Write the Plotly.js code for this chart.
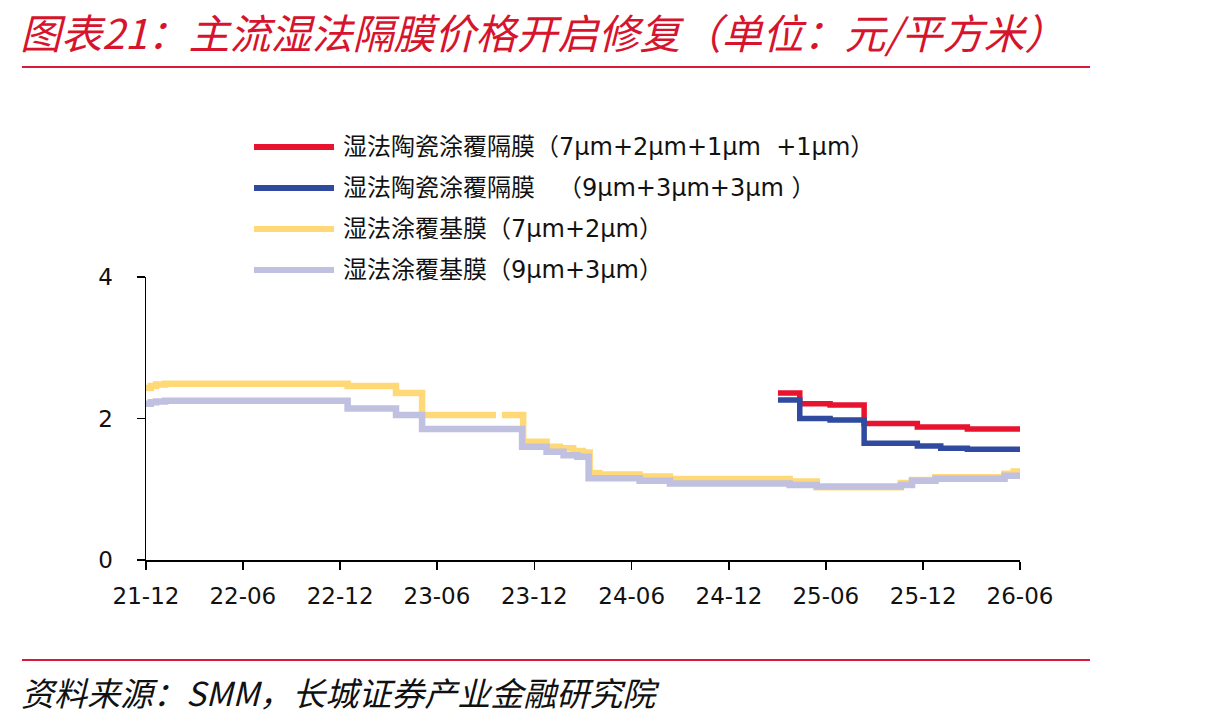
<!DOCTYPE html>
<html>
<head>
<meta charset="utf-8">
<script src="https://cdn.plot.ly/plotly-3.0.1.min.js"></script>
<style>html,body{margin:0;padding:0;background:#fff;}#chart{width:1210px;height:725px;}</style>
</head>
<body>
<div id="chart"></div>
<script>
const titleText = '图表21：主流湿法隔膜价格开启修复（单位：元/平方米）';
const sourceText = '资料来源：SMM，长城证券产业金融研究院';

const seriesNames = [
  '湿法陶瓷涂覆隔膜（7μm+2μm+1μm  +1μm）',
  '湿法陶瓷涂覆隔膜   （9μm+3μm+3μm ）',
  '湿法涂覆基膜（7μm+2μm）',
  '湿法涂覆基膜（9μm+3μm）'
];
const seriesColors = ['#E8132F', '#2F4A9E', '#FFD978', '#C0C0E0'];
const seriesWidths = [5.5, 5.5, 6.5, 6.5];

const redDates = ['2025-03-03','2025-04-13','2025-06-09','2025-08-12','2025-11-20','2026-02-22','2026-06-01'];
const redVals  = [2.36, 2.21, 2.19, 1.93, 1.88, 1.85, 1.85];

const blueDates = ['2025-03-03','2025-04-13','2025-06-09','2025-08-12','2025-11-20','2026-01-03','2026-02-22','2026-06-01'];
const blueVals  = [2.26, 2.00, 1.98, 1.65, 1.61, 1.58, 1.565, 1.565];

const yellowDates = ['2021-12-01','2021-12-10','2021-12-20','2022-01-06','2022-12-15','2023-03-16','2023-05-04','2023-09-20','2023-09-24','2023-10-01','2023-11-10','2023-12-24','2024-01-18','2024-02-12','2024-03-01','2024-03-14','2024-04-01','2024-06-16','2024-08-12','2025-03-25','2025-05-15','2025-10-20','2025-11-10','2025-12-24','2026-05-03','2026-05-20','2026-06-01'];
const yellowVals  = [2.43, 2.46, 2.48, 2.49, 2.46, 2.36, 2.05, 2.05, null, 2.05, 1.67, 1.60, 1.58, 1.54, 1.52, 1.23, 1.21, 1.18, 1.145, 1.11, 1.03, 1.09, 1.13, 1.17, 1.22, 1.25, 1.25];

const lavDates = ['2021-12-01','2021-12-10','2021-12-20','2022-01-06','2022-12-15','2023-03-16','2023-05-04','2023-11-08','2023-12-24','2024-01-25','2024-02-20','2024-03-12','2024-06-16','2024-08-12','2025-03-25','2025-05-15','2025-10-20','2025-11-10','2025-12-24','2026-05-03','2026-06-01'];
const lavVals  = [2.21, 2.23, 2.24, 2.25, 2.14, 2.05, 1.85, 1.60, 1.53, 1.48, 1.46, 1.155, 1.12, 1.08, 1.06, 1.04, 1.06, 1.12, 1.15, 1.19, 1.20];

const xTickVals = ['2021-12-01','2022-06-01','2022-12-01','2023-06-01','2023-12-01','2024-06-01','2024-12-01','2025-06-01','2025-12-01','2026-06-01'];
const xTickText = ['21-12','22-06','22-12','23-06','23-12','24-06','24-12','25-06','25-12','26-06'];
const yTickVals = [0, 2, 4];

const FONT = '"DejaVu Sans", "Noto Sans CJK SC", sans-serif';
const CJK = '"Noto Sans CJK SC", "Open Sans", sans-serif';

const allDates = [redDates, blueDates, yellowDates, lavDates];
const allVals = [redVals, blueVals, yellowVals, lavVals];
// draw order: yellow, lavender first, then red/blue on top
const drawOrder = [2, 3, 0, 1];
const traces = drawOrder.map(i => ({
  type: 'scatter', mode: 'lines', x: allDates[i], y: allVals[i], name: seriesNames[i],
  line: {color: seriesColors[i], width: seriesWidths[i], shape: 'hv'},
  connectgaps: false, showlegend: false, hoverinfo: 'skip'
}));

// plot area in pixels
const L = 146, R = 1020, T = 277, B = 560, W = 1210, H = 725;
const px = x => (x - L) / (R - L);
const py = y => (B - y) / (B - T);

const shapes = [
  {type: 'line', xref: 'paper', yref: 'paper', x0: px(22), x1: px(1090), y0: py(67), y1: py(67), line: {color: '#D7193A', width: 2}},
  {type: 'line', xref: 'paper', yref: 'paper', x0: px(22), x1: px(1090), y0: py(660), y1: py(660), line: {color: '#D7193A', width: 2}}
];
const annotations = [
  {xref: 'paper', yref: 'paper', x: px(19), y: py(31), xanchor: 'left', yanchor: 'middle', showarrow: false, borderpad: 0,
   text: '<i>' + titleText + '</i>', font: {family: CJK, size: 41, color: '#D7142D'}},
  {xref: 'paper', yref: 'paper', x: px(19), y: py(692), xanchor: 'left', yanchor: 'middle', showarrow: false,
   text: '<i>' + sourceText + '</i>', font: {family: CJK, size: 33, color: '#111'}}
];
const legendRows = [147, 188, 229, 270];
seriesNames.forEach((n, i) => {
  shapes.push({type: 'line', xref: 'paper', yref: 'paper', x0: px(254), x1: px(334), y0: py(legendRows[i]), y1: py(legendRows[i]),
    line: {color: seriesColors[i], width: 6}});
  annotations.push({xref: 'paper', yref: 'paper', x: px(341), y: py(legendRows[i]), xanchor: 'left', yanchor: 'middle', showarrow: false,
    text: n, font: {family: FONT, size: 24, color: '#111'}});
});

const layout = {
  width: W, height: H,
  margin: {l: L, r: W - R, t: T, b: H - B, pad: 0},
  paper_bgcolor: '#fff', plot_bgcolor: '#fff',
  showlegend: false,
  font: {family: FONT, size: 23, color: '#111'},
  xaxis: {
    type: 'date', range: ['2021-12-01', '2026-06-01'],
    tickmode: 'array', tickvals: xTickVals, ticktext: xTickText,
    showgrid: false, zeroline: false, showline: true, linecolor: '#000', linewidth: 1.5,
    ticks: 'outside', ticklen: 8, tickwidth: 1.5, tickcolor: '#000',
    tickfont: {family: FONT, size: 23, color: '#111'}, ticklabelstandoff: 7
  },
  yaxis: {
    range: [0, 4], tickmode: 'array', tickvals: yTickVals,
    showgrid: false, zeroline: false, showline: true, linecolor: '#000', linewidth: 1.5,
    ticks: 'outside', ticklen: 8, tickwidth: 1.5, tickcolor: '#000',
    tickfont: {family: FONT, size: 23, color: '#111'}, ticklabelstandoff: 19
  },
  shapes: shapes,
  annotations: annotations
};

Plotly.newPlot('chart', traces, layout, {displayModeBar: false, staticPlot: true});
</script>
</body>
</html>
